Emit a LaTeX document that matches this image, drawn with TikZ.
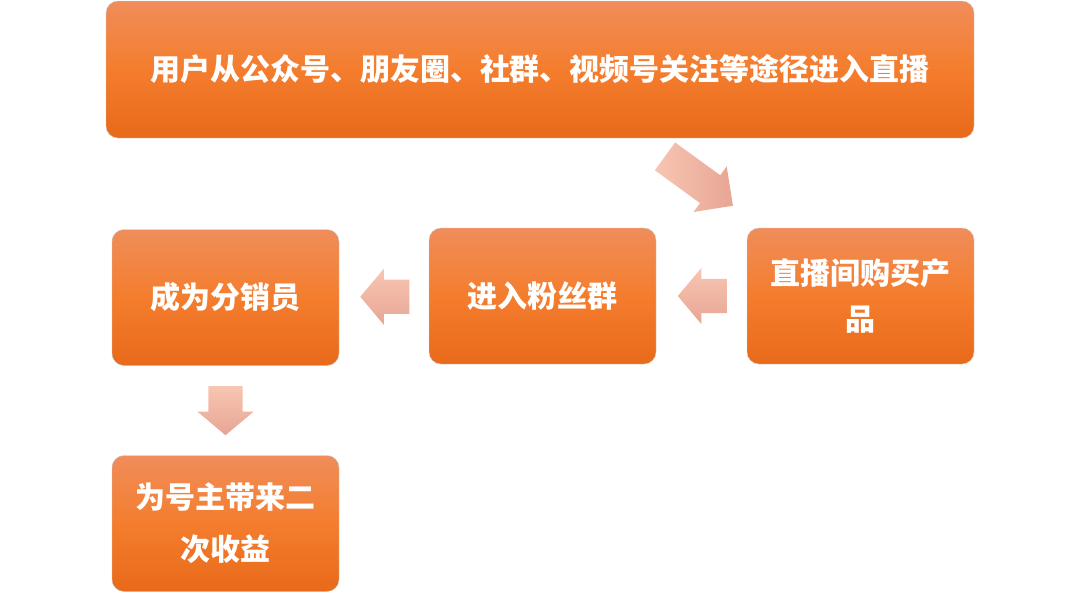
\documentclass[tikz,border=0pt]{standalone}
\usepackage{fontspec}
\newfontfamily\cjk{Noto Sans CJK SC}
\usetikzlibrary{shapes.arrows, calc}
\definecolor{boxtop}{HTML}{F08D5A}
\definecolor{boxmid}{HTML}{F47D2D}
\definecolor{boxbot}{HTML}{E86A1A}
\definecolor{arrtop}{HTML}{F7C6B2}
\definecolor{arrbot}{HTML}{E8A595}
\tikzstyle{stage}=[rounded corners=12, draw=gray!40, line width=0.4pt, top color=boxtop, bottom color=boxbot, middle color=boxmid, text=white, font=\cjk\bfseries\fontsize{30}{46}\selectfont, align=center, inner sep=0pt, minimum width=227, minimum height=136]
\tikzstyle{flow}=[single arrow, draw=none, minimum height=49, minimum width=56, single arrow head extend=11, single arrow tip angle=100, inner xsep=0pt, inner ysep=17pt, top color=arrtop, bottom color=arrbot]

\begin{document}
\begin{tikzpicture}[x=1pt, y=-1pt]
\useasboundingbox (0,0) rectangle (1080,606);
% Stages
    \node[stage, minimum width=868, minimum height=137] (enter) at (540,69.5) {用户从公众号、朋友圈、社群、视频号关注等途径进入直播};
    \node[stage] (buy) at (860.5,296) {直播间购买产\\品};
    \node[stage] (fans) at (542.5,296) {进入粉丝群};
    \node[stage] (seller) at (225.5,297.5) {成为分销员};
    \node[stage, font=\cjk\bfseries\fontsize{30}{52}\selectfont] (income) at (225.5,523.5) {为号主带来二\\次收益};
% Flow arrows
    \node[flow, minimum height=84, single arrow tip angle=90, rotate=-36, left color=arrtop, right color=arrbot] (into) at (692,176) {};
    \node[flow, shape border rotate=180, xshift=8pt] (tofans) at ($(buy.west)!0.5!(fans.east)$) {};
    \node[flow, shape border rotate=180, xshift=8pt] (toseller) at ($(fans.west)!0.5!(seller.east)$) {};
    \node[flow, shape border rotate=270, inner xsep=17pt, inner ysep=0pt, yshift=7pt] (toincome) at ($(seller.south)!0.5!(income.north)$) {};
\end{tikzpicture}
\end{document}
